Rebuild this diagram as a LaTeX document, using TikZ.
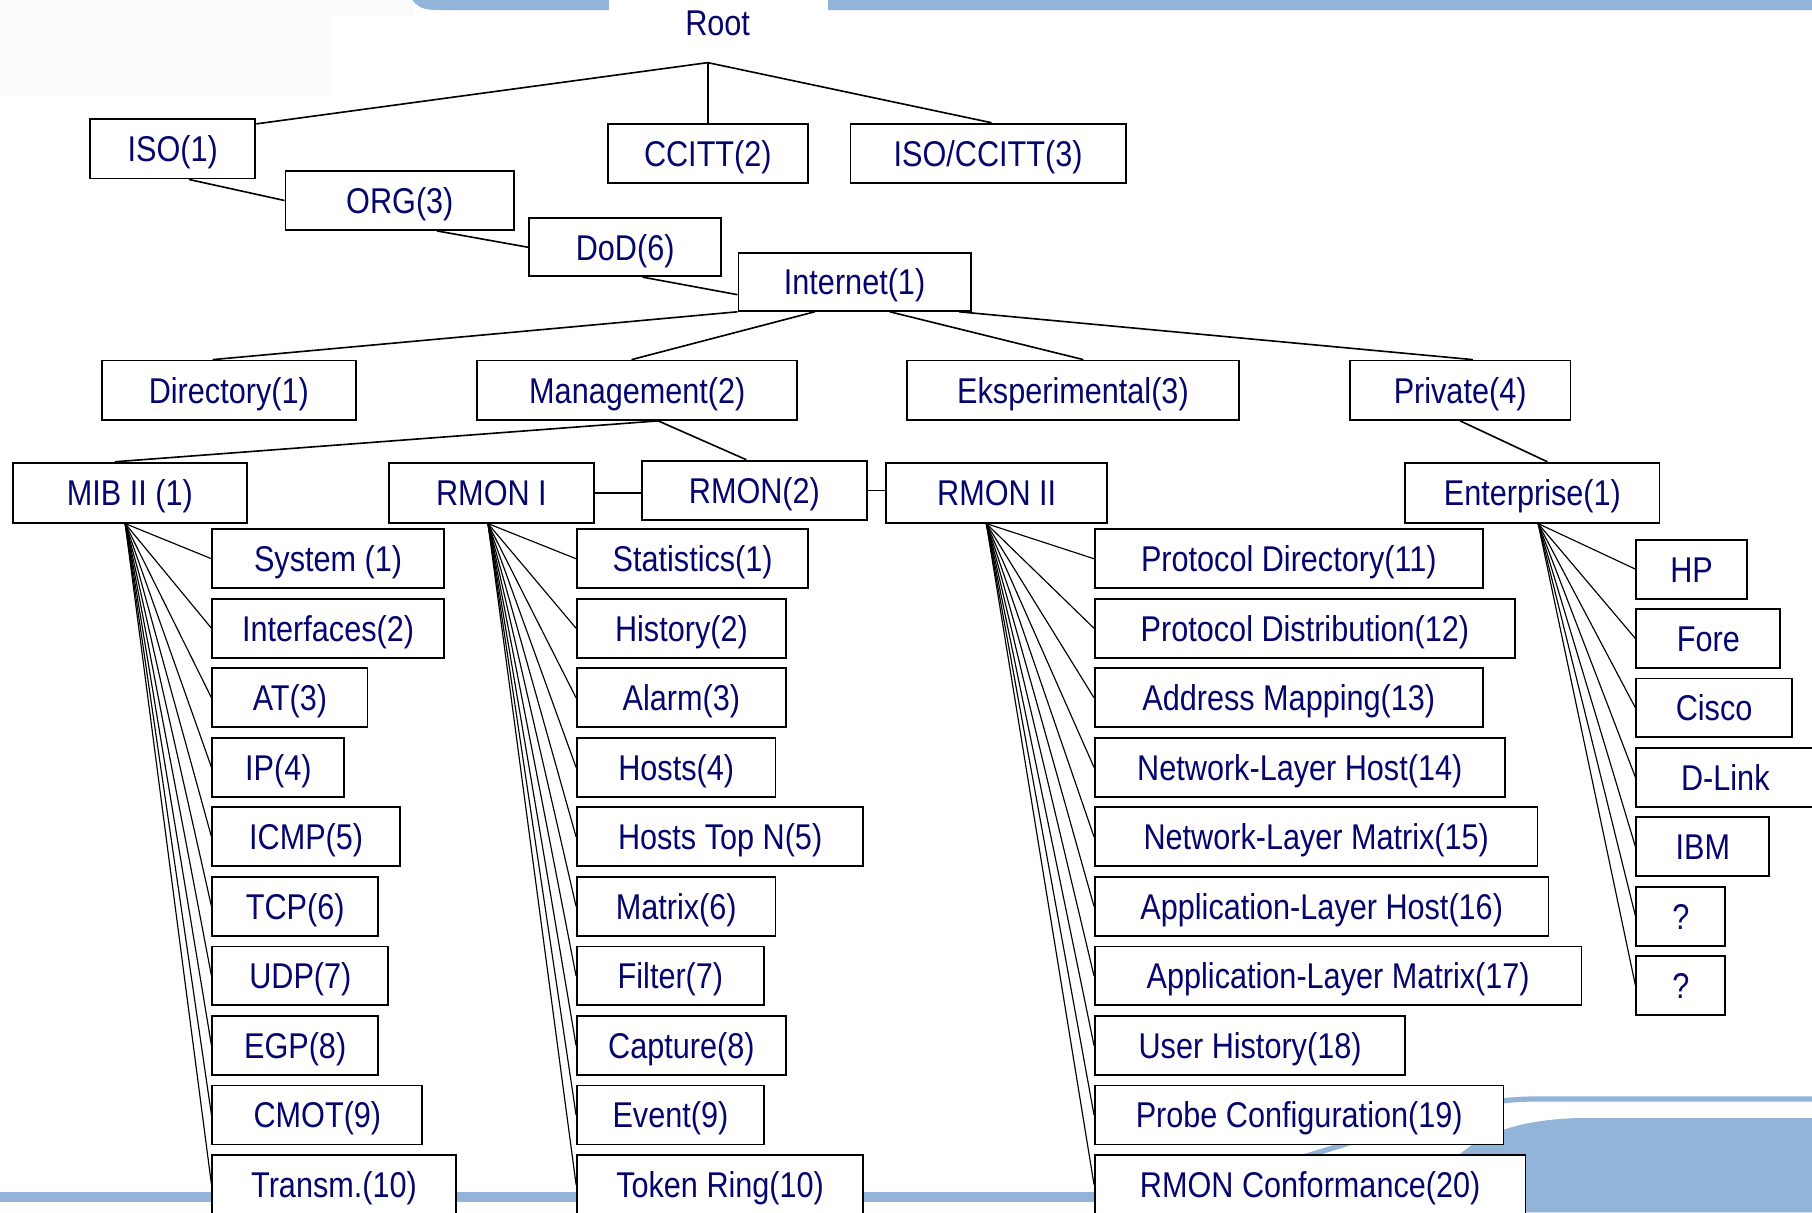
\documentclass[tikz,border=0pt]{standalone}
\usepackage{fontspec}
\setmainfont{Liberation Sans}[FakeStretch=0.855]
\usetikzlibrary{calc}
\definecolor{txt}{RGB}{5,5,110}
\definecolor{band}{RGB}{145,180,216}
\newcommand\bx[6]{\node[box, minimum width={#4-#2}, minimum height={#5-#3}] (#1) at ({(#2+#4)/2},{(#3+#5)/2}) {#6};}
\newcommand\leaf[5]{\node[box, minimum width={#4-#2}, minimum height=51] (#1) at ({(#2+#4)/2},{458+60.17*#3+25.5}) {#5};}
\newcommand\eleaf[4]{\node[box, minimum width={#4-1416}, minimum height=51] (#1) at ({(1416+#4)/2},{467+60.05*#2+25.5}) {#3};}
\begin{document}
\begin{tikzpicture}[x=1pt,y=-1pt,
  lbl/.style={inner sep=0pt, text=txt, font=\fontsize{31}{36}\selectfont, text height=22.3pt, text depth=0pt},
  box/.style={lbl, draw=black, line width=1.6pt, fill=white},
  conn/.style={line width=1.4pt},
  fan/.style={line width=1pt}]
\useasboundingbox (0,0) rectangle (1568,1049);
\fill[white] (0,0) rectangle (1568,1049);
% background decoration
\fill[gray!3] (0,0) rectangle (288,82);
\fill[gray!3] (288,0) rectangle (358,14);
\fill[band] (357,0) .. controls (361,6) and (367,8.7) .. (378,8.7) -- (1568,8.7) -- (1568,0) -- cycle;
\fill[white] (526.6,0) rectangle (716.9,12);
\fill[band] (0,1031.3) rectangle (1568,1040);
\draw[band, line width=4.5pt] (1570,951) -- (1330,951) .. controls (1300,951) and (1280,955) .. (1250,964) -- (1000,1040);
\fill[band] (1570,967.5) -- (1365,967.5) .. controls (1320,969) and (1290,978) .. (1268,995) .. controls (1240,1015) and (1220,1035) .. (1210,1049) -- (1570,1049) -- cycle;

% nodes
\node[lbl] (root) at (621,19.5) {Root};
\bx{iso}{78}{103}{221}{154.5}{ISO(1)}
\bx{ccitt}{526}{107}{699}{158}{CCITT(2)}
\bx{isoc}{736}{107}{974}{158}{ISO/CCITT(3)}
\bx{org}{247}{148}{445}{199}{ORG(3)}
\bx{dod}{458}{189}{624}{239}{DoD(6)}
\bx{inet}{639}{219}{840}{269}{Internet(1)}
\bx{dir}{88}{312}{308}{363.4}{Directory(1)}
\bx{mgmt}{413}{312}{690}{363.4}{Management(2)}
\bx{eksp}{785}{312}{1072}{363.4}{Eksperimental(3)}
\bx{priv}{1168}{312}{1359}{363.4}{Private(4)}
\bx{mib}{11}{400.4}{213.6}{452.3}{MIB II (1)}
\bx{rmona}{336.3}{400.4}{514.2}{452.3}{RMON I}
\bx{rmon}{555.4}{398.6}{750.2}{450}{RMON(2)}
\bx{rmonb}{767}{400.4}{958}{452.3}{RMON II}
\bx{ent}{1216}{400.4}{1436}{452.3}{Enterprise(1)}

\leaf{m1}{183.8}{0}{384}{System (1)}
\leaf{m2}{183.8}{1}{384}{Interfaces(2)}
\leaf{m3}{183.8}{2}{318}{AT(3)}
\leaf{m4}{183.8}{3}{298}{IP(4)}
\leaf{m5}{183.8}{4}{346}{ICMP(5)}
\leaf{m6}{183.8}{5}{327}{TCP(6)}
\leaf{m7}{183.8}{6}{336}{UDP(7)}
\leaf{m8}{183.8}{7}{327}{EGP(8)}
\leaf{m9}{183.8}{8}{365.5}{CMOT(9)}
\leaf{m10}{183.8}{9}{394.3}{Transm.(10)}

\leaf{r1}{499.3}{0}{699.5}{Statistics(1)}
\leaf{r2}{499.3}{1}{680}{History(2)}
\leaf{r3}{499.3}{2}{680}{Alarm(3)}
\leaf{r4}{499.3}{3}{671}{Hosts(4)}
\leaf{r5}{499.3}{4}{747}{Hosts Top N(5)}
\leaf{r6}{499.3}{5}{671}{Matrix(6)}
\leaf{r7}{499.3}{6}{661}{Filter(7)}
\leaf{r8}{499.3}{7}{680}{Capture(8)}
\leaf{r9}{499.3}{8}{661}{Event(9)}
\leaf{r10}{499.3}{9}{747}{Token Ring(10)}

\leaf{s1}{947.5}{0}{1283}{Protocol Directory(11)}
\leaf{s2}{947.5}{1}{1311}{Protocol Distribution(12)}
\leaf{s3}{947.5}{2}{1283}{Address Mapping(13)}
\leaf{s4}{947.5}{3}{1302}{Network-Layer Host(14)}
\leaf{s5}{947.5}{4}{1330.5}{Network-Layer Matrix(15)}
\leaf{s6}{947.5}{5}{1340}{Application-Layer Host(16)}
\leaf{s7}{947.5}{6}{1368.5}{Application-Layer Matrix(17)}
\leaf{s8}{947.5}{7}{1216}{User History(18)}
\leaf{s9}{947.5}{8}{1301}{Probe Configuration(19)}
\leaf{s10}{947.5}{9}{1320}{RMON Conformance(20)}

\eleaf{e1}{0}{HP}{1511.5}
\eleaf{e2}{1}{Fore}{1540.6}
\eleaf{e3}{2}{Cisco}{1550.5}
\eleaf{e4}{3}{D-Link}{1570}
\eleaf{e5}{4}{IBM}{1531}
\eleaf{e6}{5}{?}{1493}
\eleaf{e7}{6}{?}{1493}

% connectors
\coordinate (rj) at ([yshift=52pt]ccitt.north);
\draw[conn] (rj) -- (ccitt.north);
\draw[conn] (rj) -- ([yshift=-5pt]iso.north east);
\draw[conn] (rj) -- ([xshift=3pt]isoc.north);
\draw[conn] ([xshift=14pt]iso.south) -- (org.west);
\draw[conn] ([xshift=32pt]org.south) -- (dod.west);
\draw[conn] ([xshift=15pt]dod.south) -- ([yshift=-11pt]inet.west);
\draw[conn] (inet.south west) -- ([xshift=-14pt]dir.north);
\draw[conn] ([xshift=-34.5pt]inet.south) -- ([xshift=-5pt]mgmt.north);
\draw[conn] ([xshift=30.5pt]inet.south) -- ([xshift=9pt]eksp.north);
\draw[conn] ([xshift=90.5pt]inet.south) -- ([xshift=11pt]priv.north);
\draw[conn] ([xshift=18pt]mgmt.south) -- ([xshift=-13pt]mib.north);
\draw[conn] ([xshift=18pt]mgmt.south) -- ([xshift=-7pt]rmon.north);
\draw[conn] (rmona.east) -- (rmona.east -| rmon.west);
\draw[conn] (rmon.east) -- (rmon.east -| rmonb.west);
\draw[conn] (priv.south) -- ([xshift=13pt]ent.north);
\foreach \i in {1,...,10} {
  \draw[fan] ([xshift=-4pt]mib.south) -- (m\i.west);
  \draw[fan] ([xshift=-3pt]rmona.south) -- (r\i.west);
  \draw[fan] ([xshift=-9pt]rmonb.south) -- (s\i.west);
}
\foreach \i in {1,...,7} {
  \draw[fan] ([xshift=5pt]ent.south) -- (e\i.west);
}
\end{tikzpicture}
\end{document}
